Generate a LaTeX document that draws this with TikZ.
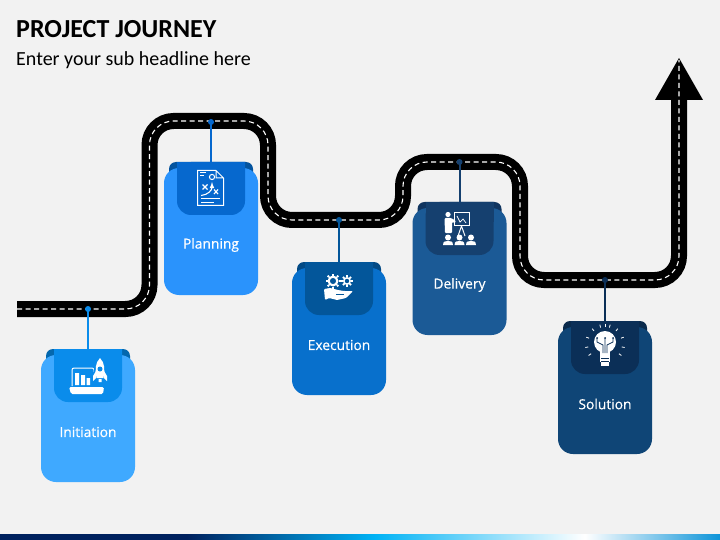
\documentclass[tikz,border=0pt]{standalone}
\usepackage{fontspec}
\setmainfont{Carlito}
\newfontfamily\labelfont[FakeBold=0.5]{Open Sans}
\usetikzlibrary{calc}
\definecolor{bgc}{HTML}{F2F2F2}
\pgfdeclarehorizontalshading{bandshade}{100bp}{rgb(0bp)=(0,0.13,0.37);rgb(38bp)=(0,0.13,0.37);rgb(51bp)=(0,0.70,0.96);rgb(65.6bp)=(1,1,1);rgb(75bp)=(0.05,0.58,0.85);rgb(100bp)=(0.05,0.58,0.85)}
\tikzset{
  x=1pt,y=-1pt,
  road/.style={line width=16pt,draw=black,rounded corners=24pt},
  roadmark/.style={line width=1.1pt,draw=white,rounded corners=24pt,dash pattern=on 5pt off 3.5pt},
  cardbody/.style={rounded corners=15pt,minimum width=94pt,minimum height=127pt,inner sep=0pt},
  cardlabel/.style={text=white,inner sep=0pt,font=\labelfont\fontsize{13.8}{15}\selectfont},
  icon/.style={draw=white,line width=1pt,fill=none},
}
% #1 name, #2 cx, #3 top, #4 road y, #5 card, #6 tab, #7 back, #8 label
\newcommand{\stepcard}[8]{%
  \coordinate (#1pin) at (#2,#4);
  \coordinate (#1top) at (#2,#3);
  \fill[#7,rounded corners=7pt] ({#2-42},{#3+25}) -- ({#2-42},#3) -- ({#2+42},#3) -- ({#2+42},{#3+25}) -- cycle;
  \node[cardbody,fill=#5] (#1) at (#2,{#3+69.5}) {};
  \node[cardlabel] (#1label) at (#2,{#3+83}) {#8};
  \fill[#6,rounded corners=14pt] ({#2-34},#3) [sharp corners] -- ({#2+34},#3) [rounded corners=14pt] -- ({#2+34},{#3+53}) -- ({#2-34},{#3+53}) -- cycle;
  \fill[#6] ({#2-34},#3) rectangle ({#2+34},{#3+20});
  \draw[#6,line width=2pt] (#1pin) -- (#1top);
  \fill[#6] (#1pin) circle (3pt);
}
% #1 x, #2 y, #3 ring radius, #4 tooth tip radius, #5 centre hole colour
\newcommand{\gearicon}[5]{%
  \fill[white] (#1,#2) circle (#3pt);
  \foreach \a in {0,45,...,315}{
    \draw[white,line width=1.8pt] ($(#1,#2)+(\a:#3)$) -- ($(#1,#2)+(\a:#4)$);
  }
  \fill[#5] (#1,#2) circle ({#3*0.55pt});
}
\begin{document}
\begin{tikzpicture}
\useasboundingbox (0,0) rectangle (720,540);
\fill[bgc] (0,0) rectangle (720,540);
\shade[shading=bandshade] (0,534) rectangle (720,540);
\node[anchor=west,inner sep=0pt,font=\bfseries\fontsize{26}{30}\selectfont] (title) at (16,29) {PROJECT JOURNEY};
\node[anchor=west,inner sep=0pt,font=\fontsize{20}{24}\selectfont] (sub) at (16,60) {Enter your sub headline here};
% road
\draw[road] (17,309) -- (149.5,309) -- (149.5,121) -- (268,121) -- (268,220) -- (403,220) -- (403,162) -- (520,162) -- (520,280) -- (679,280) -- (679,98);
\fill[black] (679,58) -- (703,100) -- (655,100) -- cycle;
\draw[roadmark] (17,309) -- (149.5,309) -- (149.5,121) -- (268,121) -- (268,220) -- (403,220) -- (403,162) -- (520,162) -- (520,280) -- (679,280) -- (679,60);
% cards
\definecolor{c1a}{HTML}{3FA9FF}\definecolor{c1b}{HTML}{0A8CEB}\definecolor{c1c}{HTML}{0468AE}
\definecolor{c2a}{HTML}{2A93FC}\definecolor{c2b}{HTML}{0668CE}\definecolor{c2c}{HTML}{04549F}
\definecolor{c3a}{HTML}{0870CC}\definecolor{c3b}{HTML}{03569A}\definecolor{c3c}{HTML}{034A85}
\definecolor{c4a}{HTML}{1B5A96}\definecolor{c4b}{HTML}{15406F}\definecolor{c4c}{HTML}{103560}
\definecolor{c5a}{HTML}{0F4576}\definecolor{c5b}{HTML}{0B2F57}\definecolor{c5c}{HTML}{0A2A4C}
\stepcard{initiation}{88}{349}{309}{c1a}{c1b}{c1c}{Initiation}
\stepcard{planning}{211}{162}{122}{c2a}{c2b}{c2c}{Planning}
\stepcard{execution}{339}{262}{220}{c3a}{c3b}{c3c}{Execution}
\stepcard{delivery}{459.5}{202}{162}{c4a}{c4b}{c4c}{Delivery}
\stepcard{solution}{605}{321}{280}{c5a}{c5b}{c5c}{Solution}
% icon: initiation
\draw[icon,rounded corners=2pt] (72,386) -- (72,368) -- (94,368) -- (94,372);
\fill[white] (75,373) rectangle (79,385) (81,375) rectangle (85,385) (86.5,378) rectangle (90,385);
\fill[white,rounded corners=1.5pt] (69,387) -- (104,387) -- (103,394) -- (71,394) -- cycle;
\fill[c1b] (100,356) .. controls (107,362) and (107,370) .. (105,380) -- (95,380) .. controls (93,370) and (93,362) .. (100,356) -- cycle;
\fill[white] (100,358) .. controls (105,363) and (105,370) .. (103.5,378) -- (96.5,378) .. controls (95,370) and (95,363) .. (100,358) -- cycle;
\fill[c1b] (100,369) circle (2.5pt);
\fill[white] (96,371) -- (93,376) -- (93,381) -- (96,378) -- cycle (104,371) -- (107,376) -- (107,381) -- (104,378) -- cycle (98.5,379) rectangle (101.5,382);
% icon: planning
\draw[icon] (197.5,170.5) -- (216,170.5) -- (223.5,178) -- (223.5,205.5) -- (197.5,205.5) -- cycle (216,170.5) -- (216,178) -- (223.5,178);
\draw[white,line width=1pt] (200,173) -- (206,173) (200,176) -- (204,176) (201,199) -- (220,199) (201,202.5) -- (214,202.5);
\draw[white,line width=1pt] (212,177) circle (2.6pt);
\draw[white,line width=1.2pt] (202.5,184.5) -- (207.5,189.5) (207.5,184.5) -- (202.5,189.5) (214,189.5) -- (218,194) (218,189.5) -- (214,194);
\draw[white,line width=1.1pt,-latex] (201,195.5) .. controls (208,195) and (212,190) .. (212,182);
% icon: execution
\gearicon{333}{281}{5.5}{7.5}{c3b}
\gearicon{347}{281}{4}{5.8}{c3b}
\fill[white,rounded corners=1pt] (324,289) -- (330,288) -- (338,290) -- (344,291) -- (353,291) -- (346,298) -- (337,300) -- (329,298) -- (325,300) -- cycle;
\draw[c3b,line width=0.9pt] (336,294.5) -- (344,294.5);
% icon: delivery
\fill[white] (448,214.5) circle (2.6pt);
\fill[white,rounded corners=1pt] (444.5,218) -- (451,218) -- (456,221) -- (455,223) -- (452,222) -- (452,233) -- (445,233) -- cycle;
\draw[icon] (454,213) rectangle (469,226);
\draw[white,line width=0.7pt] (457,216) -- (460,222) -- (463,219) -- (466,223);
\draw[white,line width=1pt] (461.5,226) -- (458,236) (461.5,226) -- (465,236);
\foreach \hx in {448,459.5,471}{
  \fill[white] (\hx,237.5) circle (3pt);
  \fill[white] ({\hx-5},245) .. controls ({\hx-5},241) and ({\hx-2},241) .. (\hx,241) .. controls ({\hx+2},241) and ({\hx+5},241) .. ({\hx+5},245) -- cycle;
}
% icon: solution
\fill[white] (605,342) circle (11pt);
\fill[white] (600,349) rectangle (610,362);
\fill[white] (601,362) rectangle (609,366);
\draw[c5b,line width=0.7pt] (601,358) -- (609,358) (601,361) -- (609,361);
\draw[c5b,line width=0.8pt] (603,353) -- (603,345) -- (597,342) -- (597,338) (607,353) -- (607,345) -- (613,342) -- (613,338) (605,353) -- (605,338);
\fill[c5b] (597,338) circle (1pt) (613,338) circle (1pt) (605,338) circle (1pt);
\foreach \a in {-160,-130,-105,-75,-50,-20,10,170,35,145,-90}{
  \draw[white,line width=0.8pt] ($(605,344)+(\a:17)$) -- ($(605,344)+(\a:20)$);
}
\end{tikzpicture}
\end{document}
